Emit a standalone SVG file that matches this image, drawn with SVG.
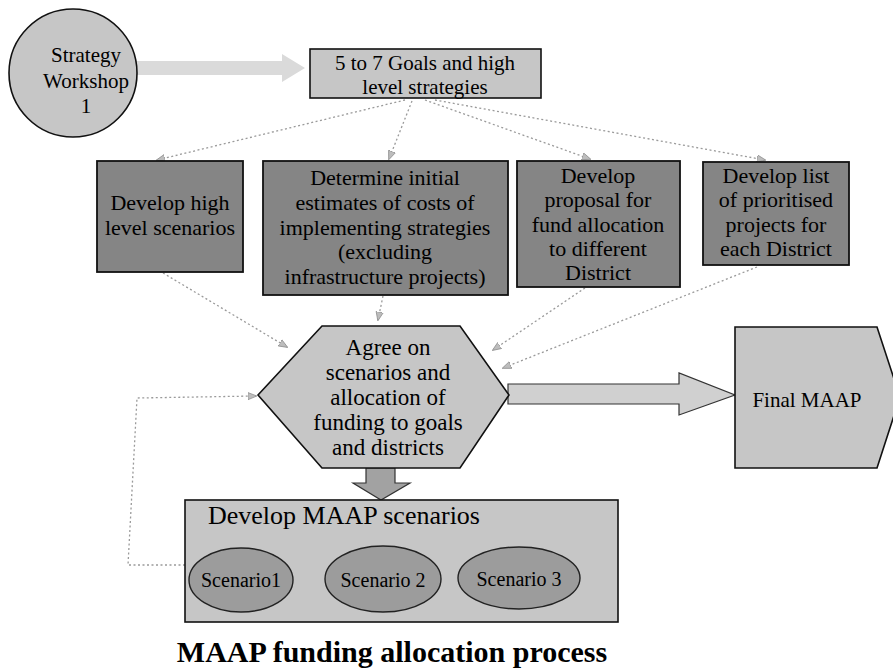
<svg xmlns="http://www.w3.org/2000/svg" width="893" height="670" viewBox="0 0 893 670" font-family="'Liberation Serif','Times New Roman',serif">
<style>
text{font-family:"Liberation Serif","Times New Roman",serif;fill:#000;text-anchor:middle}
.lt{fill:#c6c6c6;stroke:#111;stroke-width:1.6}
.dk{fill:#858585;stroke:#111;stroke-width:1.8}
.el{fill:#9c9c9c;stroke:#222;stroke-width:1.4}
.dot{fill:none;stroke:#9a9a9a;stroke-width:1.3;stroke-dasharray:2 2.5}
.t22{font-size:22px}
.t23{font-size:23px}
</style>
<defs>
<marker id="ah" viewBox="0 0 10 10" refX="9" refY="5" markerWidth="9" markerHeight="9" orient="auto" markerUnits="userSpaceOnUse">
<path d="M0,1 L10,5 L0,9 Z" fill="#bdbdbd" stroke="#8a8a8a" stroke-width="0.8"/>
</marker>
</defs>
<rect width="893" height="670" fill="#fff"/>

<g id="connectors">
<polygon points="132,61 282,61 282,54 305,68 282,82 282,75 132,75" fill="#dadada"/>
<line class="dot" x1="405" y1="100" x2="157" y2="160" marker-end="url(#ah)"/>
<line class="dot" x1="412" y1="101" x2="389" y2="159" marker-end="url(#ah)"/>
<line class="dot" x1="425" y1="100" x2="590" y2="159" marker-end="url(#ah)"/>
<line class="dot" x1="435" y1="100" x2="765" y2="160" marker-end="url(#ah)"/>
<line class="dot" x1="163" y1="273" x2="287" y2="347" marker-end="url(#ah)"/>
<line class="dot" x1="383" y1="296" x2="378" y2="320" marker-end="url(#ah)"/>
<line class="dot" x1="585" y1="288" x2="493" y2="350" marker-end="url(#ah)"/>
<line class="dot" x1="757" y1="267" x2="503" y2="368" marker-end="url(#ah)"/>
<path class="dot" d="M185,565 L128,565 L137,398 L256,396" marker-end="url(#ah)"/>
<polygon points="508,384 679,384 679,373 735,395 679,415 679,404 508,404" fill="#d0d0d0" stroke="#333" stroke-width="1.2"/>
<polygon points="366,468 395,468 395,483 410,483 381,500 353,483 366,483" fill="#a2a2a2" stroke="#333" stroke-width="1.2"/>
</g>

<g id="workshop">
<circle cx="73" cy="73" r="64" class="lt" fill="#c2c2c2"/>
<text x="86" y="62" style="font-size:21px">Strategy</text>
<text x="86" y="88" style="font-size:21px">Workshop</text>
<text x="86" y="113" style="font-size:21px">1</text>
</g>

<g id="goals">
<rect x="310" y="49" width="231" height="49" class="lt" fill="#cacaca"/>
<text x="425" y="70" style="font-size:21px">5 to 7 Goals and high</text>
<text x="425" y="94" style="font-size:21px">level strategies</text>
</g>

<g id="scenarios-high">
<rect x="97" y="161" width="146" height="111" class="dk"/>
<text x="170" y="210" class="t22">Develop high</text>
<text x="170" y="235" class="t22">level scenarios</text>
</g>

<g id="estimates">
<rect x="263" y="161" width="245" height="134" class="dk"/>
<text x="385" y="185" class="t22">Determine initial</text>
<text x="385" y="210" class="t22">estimates of costs of</text>
<text x="385" y="235" class="t22">implementing strategies</text>
<text x="385" y="259" class="t22">(excluding</text>
<text x="385" y="284" class="t22">infrastructure projects)</text>
</g>

<g id="proposal">
<rect x="517" y="161" width="163" height="126" class="dk"/>
<text x="598" y="183" class="t22">Develop</text>
<text x="598" y="207" class="t22">proposal for</text>
<text x="598" y="232" class="t22">fund allocation</text>
<text x="598" y="256" class="t22">to different</text>
<text x="598" y="280" class="t22">District</text>
</g>

<g id="projects">
<rect x="703" y="162" width="146" height="103" class="dk"/>
<text x="776" y="183" class="t22">Develop list</text>
<text x="776" y="207" class="t22">of prioritised</text>
<text x="776" y="232" class="t22">projects for</text>
<text x="776" y="256" class="t22">each District</text>
</g>

<g id="agree">
<polygon points="322,326 460,326 509,395 460,468 322,468 258,395" class="lt" fill="#c3c3c3"/>
<text x="388" y="355" class="t23">Agree on</text>
<text x="388" y="380" class="t23">scenarios and</text>
<text x="388" y="405" class="t23">allocation of</text>
<text x="388" y="430" class="t23">funding to goals</text>
<text x="388" y="455" class="t23">and districts</text>
</g>

<g id="final">
<polygon points="735,327 877,327 900,397 877,468 735,468" class="lt" fill="#bcbcbc"/>
<text x="807" y="407" style="font-size:21px">Final MAAP</text>
</g>

<g id="maap-scenarios">
<rect x="185" y="500" width="433" height="122" class="lt" fill="#c6c6c6"/>
<text x="208" y="524" style="font-size:26px;text-anchor:start">Develop MAAP scenarios</text>
<ellipse cx="241" cy="580" rx="52" ry="32" class="el"/>
<text x="241" y="587" style="font-size:20px">Scenario1</text>
<ellipse cx="383" cy="579" rx="58" ry="33" class="el"/>
<text x="383" y="587" style="font-size:20px">Scenario 2</text>
<ellipse cx="519" cy="578" rx="61" ry="31" class="el"/>
<text x="519" y="586" style="font-size:20px">Scenario 3</text>
</g>

<text id="title" x="392" y="662" style="font-size:30px;font-weight:bold">MAAP funding allocation process</text>
</svg>
